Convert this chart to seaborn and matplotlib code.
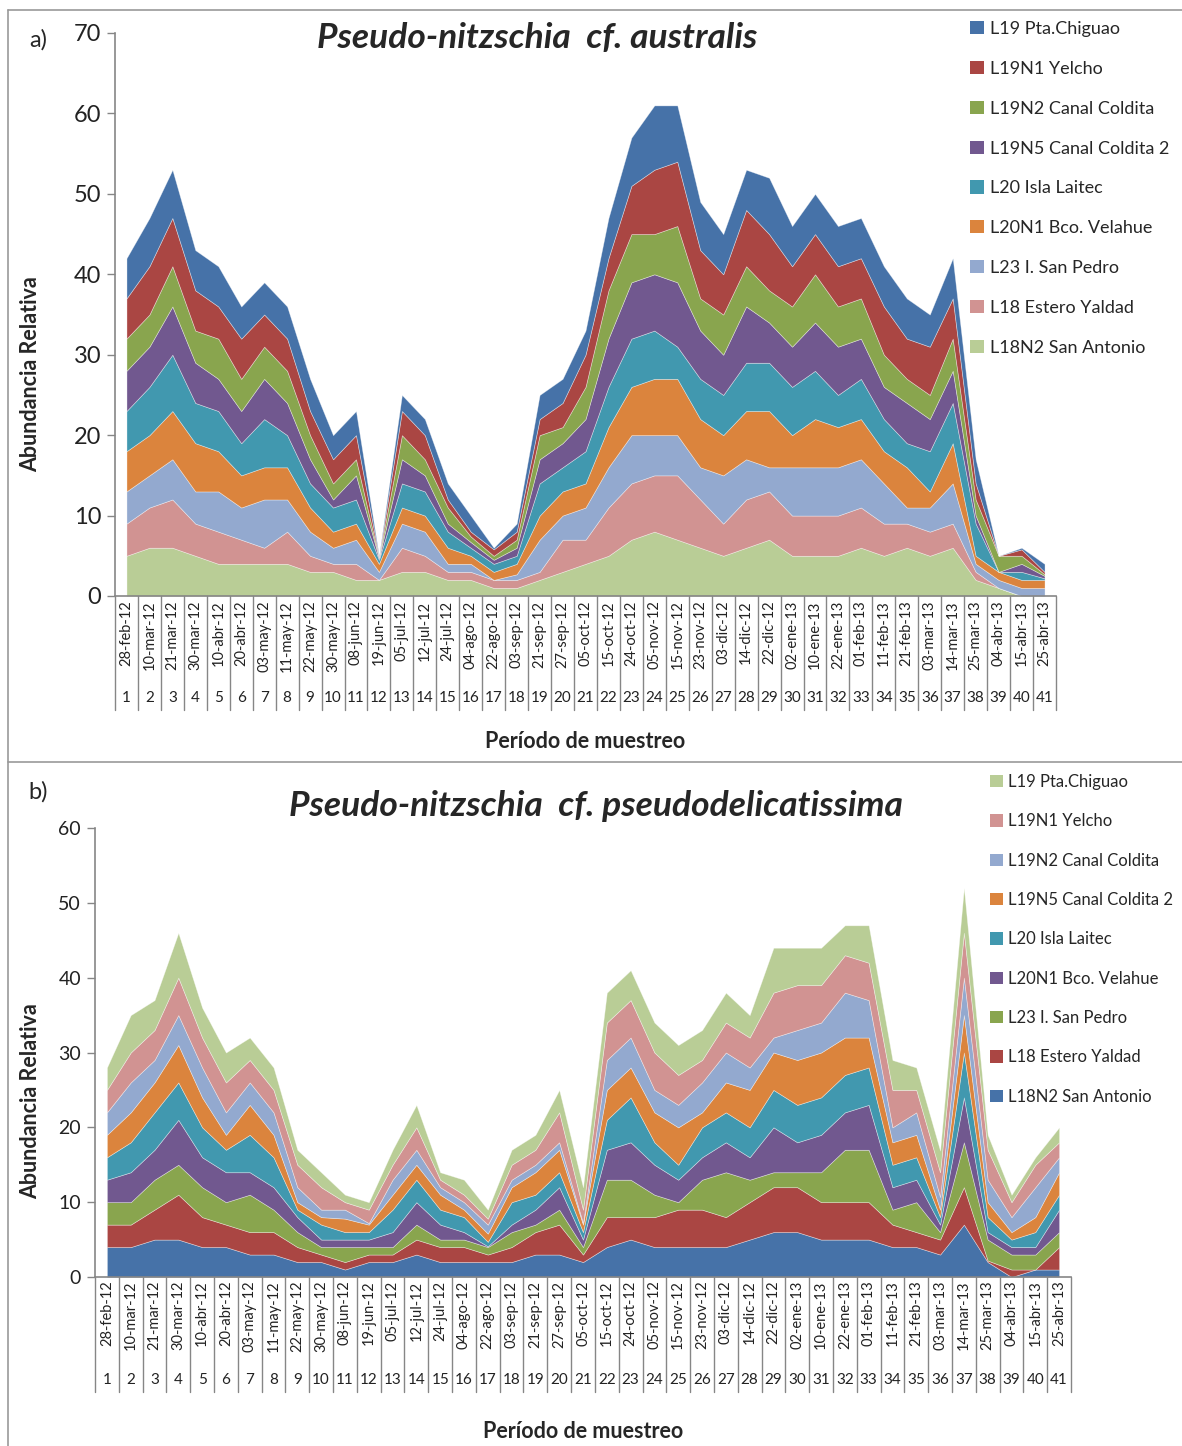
import numpy as np
import matplotlib
matplotlib.use("Agg")
import matplotlib.pyplot as plt
import matplotlib.transforms as mtransforms
from matplotlib.patches import Patch
from matplotlib.lines import Line2D
import seaborn as sns

sns.set_style("white")
plt.rcParams['font.family'] = ['Lato', 'DejaVu Sans']

# ---------------- data ----------------
dates = ["28-feb-12", "10-mar-12", "21-mar-12", "30-mar-12", "10-abr-12", "20-abr-12",
         "03-may-12", "11-may-12", "22-may-12", "30-may-12", "08-jun-12", "19-jun-12",
         "05-jul-12", "12-jul-12", "24-jul-12", "04-ago-12", "22-ago-12", "03-sep-12",
         "21-sep-12", "27-sep-12", "05-oct-12", "15-oct-12", "24-oct-12", "05-nov-12",
         "15-nov-12", "23-nov-12", "03-dic-12", "14-dic-12", "22-dic-12", "02-ene-13",
         "10-ene-13", "22-ene-13", "01-feb-13", "11-feb-13", "21-feb-13", "03-mar-13",
         "14-mar-13", "25-mar-13", "04-abr-13", "15-abr-13", "25-abr-13"]
periods = [str(i) for i in range(1, 42)]

# stacking order: bottom -> top
stations = ["L18N2 San Antonio", "L18 Estero Yaldad", "L23 I. San Pedro",
            "L20N1 Bco. Velahue", "L20 Isla Laitec", "L19N5 Canal Coldita 2",
            "L19N2 Canal Coldita", "L19N1 Yelcho", "L19 Pta.Chiguao"]

# Panel a: Pseudo-nitzschia cf. australis
a_san_antonio = [5,6,6,5,4,4,4,4,3,3,2,2,3,3,2,2,1,1,2,3,4,5,7,8,7,6,5,6,7,5,5,5,6,5,6,5,6,2,1,0,0]
a_estero_yaldad = [4,5,6,4,4,3,2,4,2,1,2,0,3,2,1,1,1,1,1,4,3,6,7,7,8,6,4,6,6,5,5,5,5,4,3,3,3,1,0,0,0]
a_san_pedro = [4,4,5,4,5,4,6,4,3,2,3,1,3,3,1,1,0,0.7,4,3,4,5,6,5,5,4,6,5,3,6,6,6,6,5,2,3,5,1,1,1,1]
a_velahue = [5,5,6,6,5,4,4,4,3,2,2,1,2,2,2,1,1,1.3,3,3,3,5,6,7,7,6,5,6,7,4,6,5,5,4,5,2,5,1,1,1,1]
a_laitec = [5,6,7,5,5,4,6,4,3,3,3,0.5,3,3,2,1,1,1,4,3,4,5,6,6,4,5,5,6,6,6,6,4,5,4,3,5,5,4,0,1,0.2]
a_coldita2 = [5,5,6,5,4,4,5,4,3,1,3,0.2,3,2,1,0.7,0.5,1,3,3,4,6,7,7,8,6,5,7,5,5,6,6,5,4,5,4,4,1,0,1,0.3]
a_coldita = [4,4,5,4,5,4,4,4,3,2,2,0.1,3,2,2,0.7,0.5,1,3,2,4,6,6,5,7,4,5,5,4,5,6,5,5,4,3,3,4,2,2,1,0.2]
a_yelcho = [5,6,6,5,4,5,4,4,3,3,3,0.1,3,3,1,0.6,0.8,1,2,3,4,4,6,8,8,6,5,7,7,5,5,5,5,6,5,6,5,2,0,0.8,0.3]
a_chiguao = [5,6,6,5,5,4,4,4,4,3,3,0.1,2,2,2,2,0.2,1,3,3,3,5,6,8,7,6,5,5,7,5,5,5,5,5,5,4,5,3,0,0.2,1]

# Panel b: Pseudo-nitzschia cf. pseudodelicatissima
b_san_antonio = [4,4,5,5,4,4,3,3,2,2,1,2,2,3,2,2,2,2,3,3,2,4,5,4,4,4,4,5,6,6,5,5,5,4,4,3,7,2,0,1,1]
b_estero_yaldad = [3,3,4,6,4,3,3,3,2,1,1,1,1,2,2,2,1,2,3,4,1,4,3,4,5,5,4,5,6,6,5,5,5,3,2,2,5,0.2,1,0,3]
b_san_pedro = [3,3,4,4,4,3,5,3,2,1,2,1,1,2,1,1,1,2,1,2,1,5,5,3,1,4,6,3,2,2,4,7,7,2,4,1,6,2.8,2,2,2]
b_velahue = [3,4,4,6,4,4,3,3,2,1,1,1,2,3,2,1,0.1,1,2,3,1,4,5,4,3,3,4,3,6,4,5,5,6,3,3,1,6,1,1,1,3]
b_laitec = [3,4,5,5,4,3,5,4,1,2,1,1,3,3,2,2,0.6,3,2,2,1,4,6,3,2,4,4,4,5,5,5,5,5,3,3,1,6,2,1,2,2]
b_coldita2 = [3,4,4,5,4,2,4,3,1,1,1.8,1,2,2,2,1,1.1,2,3,3,1,4,4,4,5,2,4,5,5,6,6,5,4,3,3,1,5,2,1,2,3]
b_coldita = [3,4,3,4,4,3,3,3,2,1,1.2,0.2,2,2,1,1,1.2,1,1,1,0.2,4,4,3,3,4,4,3,2,4,4,6,5,2,3,1.7,5,3,2,4,2]
b_yelcho = [3,4,4,5,4,4,3,3,3,3,1,1.8,2,3,1,1,0.8,2,2,4,1.8,5,5,5,4,3,4,4,6,6,5,5,5,5,3,3.3,6,4,2,3,2]
b_chiguao = [3,5,4,6,4,4,3,3,2,2,1,1,2,3,1,2,1.2,2,2,3,3,4,4,4,4,4,4,3,6,5,5,4,5,4,3,2.9,6,2,1,1,2]

a_series = [a_san_antonio, a_estero_yaldad, a_san_pedro, a_velahue, a_laitec,
            a_coldita2, a_coldita, a_yelcho, a_chiguao]
b_series = [b_san_antonio, b_estero_yaldad, b_san_pedro, b_velahue, b_laitec,
            b_coldita2, b_coldita, b_yelcho, b_chiguao]

# Excel-like palette
BLUE, RED, GREEN, PURPLE, TEAL, ORANGE, LBLUE, PINK, LGREEN = (
    "#4672A8", "#AA4643", "#89A54E", "#71588F", "#4198AF", "#DB843D",
    "#93A9CF", "#D19392", "#B9CD96")
a_colors = [LGREEN, PINK, LBLUE, ORANGE, TEAL, PURPLE, GREEN, RED, BLUE]
b_colors = [BLUE, RED, GREEN, PURPLE, TEAL, ORANGE, LBLUE, PINK, LGREEN]

W, H = 1182, 1446
fig = plt.figure(figsize=(W / 100, H / 100), dpi=100)

GRAY = "#868686"


def px_axes(left, top, right, bottom):
    return fig.add_axes([left / W, 1 - bottom / H, (right - left) / W, (bottom - top) / H])


def draw_panel(ax, series, colors, ymax, ystep, ytick_fs, sep_depth, num_y, xlabel_y):
    x = np.arange(len(dates))
    ax.stackplot(x, *series, colors=colors, linewidth=0.5, edgecolor=(1, 1, 1, 0.45))
    ax.set_xlim(-0.5, len(dates) - 0.5)
    ax.set_ylim(0, ymax)
    ax.set_yticks(np.arange(0, ymax + 1, ystep))
    ax.tick_params(axis='y', labelsize=ytick_fs, length=6, width=1, color=GRAY,
                   direction='out', left=True, pad=4, labelcolor='#222222')
    ax.set_xticks([])
    for s in ['top', 'right']:
        ax.spines[s].set_visible(False)
    for s in ['left', 'bottom']:
        ax.spines[s].set_color(GRAY)
        ax.spines[s].set_linewidth(1.2)
    trans = mtransforms.blended_transform_factory(ax.transData, ax.transAxes)
    for i in range(len(dates) + 1):
        ax.plot([i - 0.5, i - 0.5], [0, -sep_depth], transform=trans, color=GRAY,
                lw=1, clip_on=False)
    for i, (d, p) in enumerate(zip(dates, periods)):
        ax.text(i, -0.008, d, transform=trans, rotation=90, ha='center', va='top',
                fontsize=10.5, color='#222222')
        ax.text(i, num_y, p, transform=trans, ha='center', va='center',
                fontsize=11, color='#222222')
    ax.text(0.5 * (len(dates) - 1), xlabel_y, "Período de muestreo", transform=trans,
            ha='center', va='center', fontsize=15.5, fontweight='bold')


# Panel a
ax1 = px_axes(115, 33, 1056, 596)
draw_panel(ax1, a_series, a_colors, 70, 10, 17, 114 / 563, -102 / 563, -145 / 563)
# Panel b
ax2 = px_axes(95, 828, 1071, 1277)
draw_panel(ax2, b_series, b_colors, 60, 10, 14, 115 / 449, -103 / 449, -155 / 449)

# Titles and labels
fig.text(537 / W, 1 - 38 / H, "Pseudo-nitzschia  cf. australis", ha='center', va='center',
         fontsize=25.5, fontweight='bold', fontstyle='italic')
fig.text(596 / W, 1 - 806 / H, "Pseudo-nitzschia  cf. pseudodelicatissima", ha='center',
         va='center', fontsize=25.5, fontweight='bold', fontstyle='italic')
fig.text(38 / W, 1 - 40 / H, "a)", ha='center', va='center', fontsize=17)
fig.text(38 / W, 1 - 792 / H, "b)", ha='center', va='center', fontsize=17)
fig.text(31 / W, 1 - 374 / H, "Abundancia Relativa", rotation=90, ha='center', va='center',
         fontsize=15.5, fontweight='bold')
fig.text(31 / W, 1 - 1101 / H, "Abundancia Relativa", rotation=90, ha='center', va='center',
         fontsize=15.5, fontweight='bold')

# Legends (top entry = top of stack)
def add_legend(colors, x_left, y_top, fs, spacing):
    handles = [Patch(facecolor=c, edgecolor='none') for c in colors[::-1]]
    labels = stations[::-1]
    leg = fig.legend(handles, labels, loc='upper left',
                     bbox_to_anchor=(x_left / W, 1 - y_top / H), frameon=False,
                     fontsize=fs, labelspacing=spacing, handlelength=0.75, handleheight=0.75,
                     handletextpad=0.35, borderaxespad=0, borderpad=0)
    return leg

add_legend(a_colors, 970, 21, 13, 1.32)
add_legend(b_colors, 990, 774, 12, 1.40)

# Frame lines
for (xs, ys) in [([8, 1182], [10, 10]), ([8, 8], [10, 1446]), ([8, 1182], [762, 762])]:
    fig.add_artist(Line2D([x / W for x in xs], [1 - y / H for y in ys], color='#999999', lw=1.2))

fig.savefig("out.png", dpi=100)
